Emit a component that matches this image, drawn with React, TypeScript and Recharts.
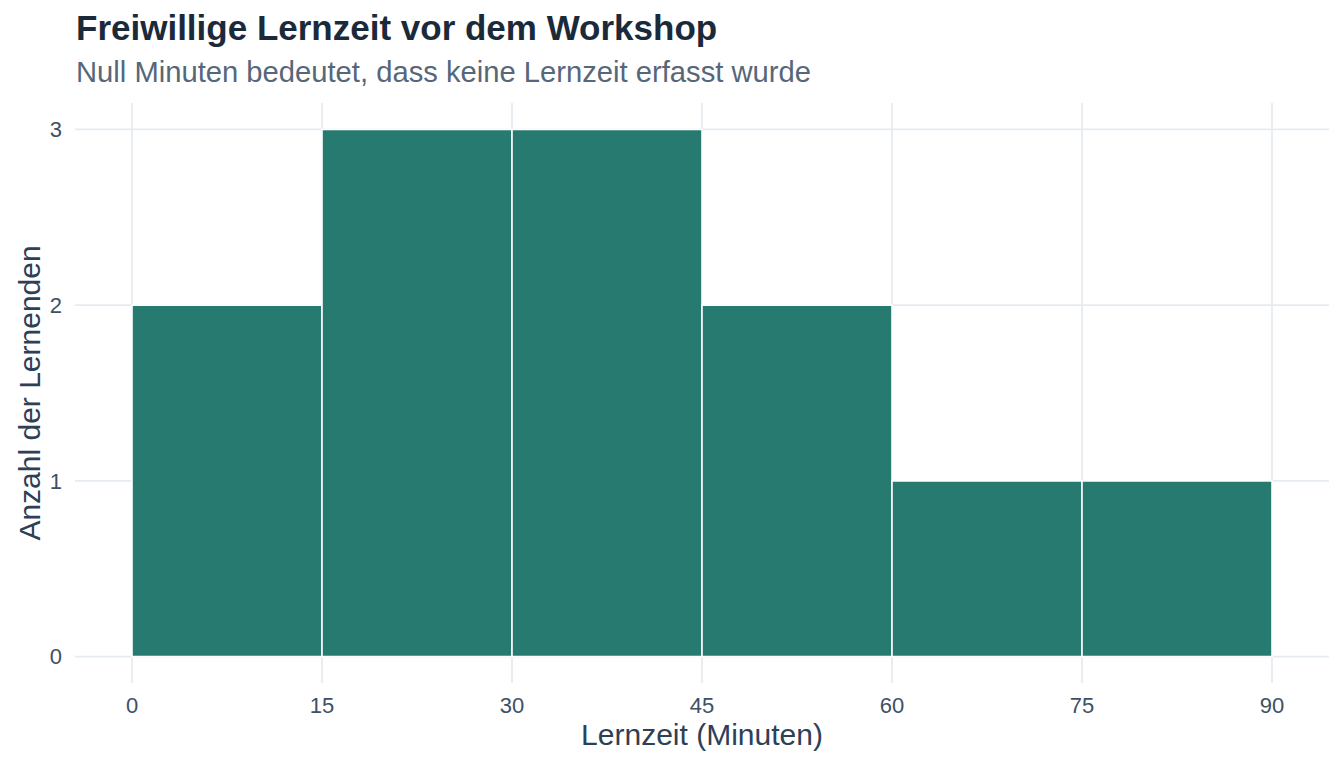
import { BarChart, Bar, XAxis, YAxis, CartesianGrid, Label } from "recharts";

const binStarts = [0, 15, 30, 45, 60, 75];
const counts = [2, 3, 3, 2, 1, 1];
const xTicks = [0, 15, 30, 45, 60, 75, 90];
const yTicks = [0, 1, 2, 3];

const BIN_WIDTH = 15;
const FONT = "'Liberation Sans', Arial, sans-serif";

const data = binStarts.map((start, i) => ({ mid: start + BIN_WIDTH / 2, count: counts[i] }));

export default function App() {
  return (
    <div style={{ position: "absolute", left: 0, top: 0, width: 1344, height: 768, background: "#fff", fontFamily: FONT }}>
      <div style={{ position: "absolute", left: 76, top: 10, fontSize: 35, lineHeight: 1, fontWeight: 700, color: "#1b2a3a", whiteSpace: "nowrap" }}>
        Freiwillige Lernzeit vor dem Workshop
      </div>
      <div style={{ position: "absolute", left: 76, top: 58, fontSize: 29.2, lineHeight: 1, color: "#56677a", whiteSpace: "nowrap" }}>
        Null Minuten bedeutet, dass keine Lernzeit erfasst wurde
      </div>
      <div style={{ position: "absolute", left: 0, top: 0 }}>
        <BarChart
          width={1344}
          height={768}
          data={data}
          margin={{ top: 103, right: 15, left: 15, bottom: 0 }}
          barCategoryGap={0}
          barGap={0}
        >
          <CartesianGrid stroke="#e6ebf1" strokeWidth={1.8} syncWithTicks />
          <XAxis
            dataKey="mid"
            type="number"
            domain={[-4.5, 94.5]}
            ticks={xTicks}
            allowDataOverflow
            height={85}
            axisLine={false}
            tickLine={false}
            tickMargin={8}
            tick={{ fill: "#3e5063", fontSize: 22, fontFamily: FONT }}
          >
            <Label value="Lernzeit (Minuten)" position="insideBottom" offset={23} fill="#2e4055" fontSize={30} fontFamily={FONT} />
          </XAxis>
          <YAxis
            type="number"
            domain={[-0.15, 3.15]}
            ticks={yTicks}
            allowDataOverflow
            width={60}
            axisLine={false}
            tickLine={false}
            tickMargin={7}
            tick={{ fill: "#3e5063", fontSize: 22, fontFamily: FONT }}
          >
            <Label value="Anzahl der Lernenden" angle={-90} position="insideLeft" offset={14} fill="#2e4055" fontSize={30} fontFamily={FONT} style={{ textAnchor: "middle" }} />
          </YAxis>
          <Bar dataKey="count" fill="#277a6f" stroke="#ffffff" strokeWidth={1.6} isAnimationActive={false} />
        </BarChart>
      </div>
    </div>
  );
}
